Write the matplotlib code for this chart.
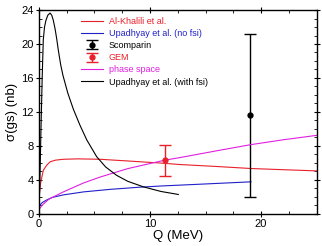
import matplotlib
matplotlib.use("Agg")
import matplotlib.pyplot as plt
from matplotlib.ticker import MultipleLocator

plt.rcParams['font.family'] = ['Liberation Sans', 'DejaVu Sans']

# Al-Khalili et al.
q_ak = [0.02, 0.15, 0.39, 0.7, 1.0, 1.5, 2.2, 3.5, 5.5, 8.0, 11.0, 12.7, 16.0, 19.1, 22.0, 25.0]
s_ak = [2.0, 3.6, 5.1, 5.7, 6.1, 6.3, 6.4, 6.45, 6.4, 6.2, 5.95, 5.78, 5.55, 5.31, 5.17, 5.03]

# Upadhyay et al. (no fsi)
q_nofsi = [0.02, 0.3, 0.7, 1.2, 2.2, 4.0, 6.4, 9.0, 11.0, 12.7, 16.0, 19.1]
s_nofsi = [0.9, 1.3, 1.6, 1.9, 2.2, 2.55, 2.85, 3.1, 3.25, 3.35, 3.55, 3.74]

# phase space
q_ps = [0.02, 0.3, 0.9, 2.2, 4.0, 5.5, 8.0, 11.35, 12.7, 16.0, 19.1, 22.0, 25.0]
s_ps = [0.5, 1.0, 1.7, 2.55, 3.6, 4.3, 5.3, 6.3, 6.6, 7.4, 8.13, 8.7, 9.22]

# Upadhyay et al. (with fsi)
q_fsi = [0.0, 0.1, 0.2, 0.3, 0.39, 0.5, 0.63, 0.8, 1.0, 1.15, 1.29, 1.45, 1.6, 1.74,
         1.95, 2.16, 2.6, 3.1, 3.7, 4.3, 5.2, 6.0, 7.0, 8.0, 9.4, 11.0, 12.55]
s_fsi = [0.0, 5.0, 11.0, 16.5, 20.5, 22.0, 22.8, 23.4, 23.65, 23.4, 22.8, 21.8, 20.6, 19.3,
         17.6, 16.3, 14.2, 12.3, 10.4, 8.7, 6.7, 5.5, 4.5, 3.8, 3.15, 2.6, 2.25]

# experimental points
scomparin_q, scomparin_s, scomparin_lo, scomparin_hi = 19.05, 11.6, 1.98, 21.2
gem_q, gem_s, gem_lo, gem_hi = 11.35, 6.3, 4.45, 8.1

red, blue, magenta = '#e8202a', '#2020c8', '#e020e0'

fig = plt.figure(figsize=(3.22, 2.46), dpi=100)
ax = fig.add_axes([0.121, 0.132, 0.862, 0.827])

lw = 0.8
h_ak, = ax.plot(q_ak, s_ak, color=red, lw=lw)
h_nofsi, = ax.plot(q_nofsi, s_nofsi, color=blue, lw=lw)
h_sc = ax.errorbar([scomparin_q], [scomparin_s],
                   yerr=[[scomparin_s - scomparin_lo], [scomparin_hi - scomparin_s]],
                   fmt='o', color='black', ms=3.5, capsize=4, elinewidth=1.0, capthick=1.0)
h_gem = ax.errorbar([gem_q], [gem_s], yerr=[[gem_s - gem_lo], [gem_hi - gem_s]],
                    fmt='o', color=red, ms=3.5, capsize=4, elinewidth=1.0, capthick=1.0)
h_ps, = ax.plot(q_ps, s_ps, color=magenta, lw=lw)
h_fsi, = ax.plot(q_fsi, s_fsi, color='black', lw=lw)

ax.set_xlim(0, 25)
ax.set_ylim(0, 24)
ax.xaxis.set_major_locator(MultipleLocator(10))
ax.xaxis.set_minor_locator(MultipleLocator(2.5))
ax.yaxis.set_major_locator(MultipleLocator(4))
ax.yaxis.set_minor_locator(MultipleLocator(1))
ax.tick_params(which='major', direction='inout', length=5, width=0.8,
               top=True, right=True, labelsize=8, pad=1.5)
ax.tick_params(which='minor', direction='in', length=2.5, width=0.6,
               top=True, right=True)
for sp in ax.spines.values():
    sp.set_linewidth(1.0)

ax.set_xlabel('Q (MeV)', fontsize=9.5, labelpad=1)
ax.set_ylabel('σ(gs) (nb)', fontsize=9.5, labelpad=2)

handles = [h_ak, h_nofsi, h_sc, h_gem, h_ps, h_fsi]
labels = ['Al-Khalili et al.', 'Upadhyay et al. (no fsi)', 'Scomparin', 'GEM',
          'phase space', 'Upadhyay et al. (with fsi)']
colors = [red, blue, 'black', red, magenta, 'black']
leg = ax.legend(handles, labels, loc='upper left', bbox_to_anchor=(0.14, 0.985),
                frameon=False, fontsize=6.5, handlelength=2.4, handletextpad=0.6,
                labelspacing=0.35, borderaxespad=0)
for txt, c in zip(leg.get_texts(), colors):
    txt.set_color(c)

fig.savefig('out.png', dpi=100)
